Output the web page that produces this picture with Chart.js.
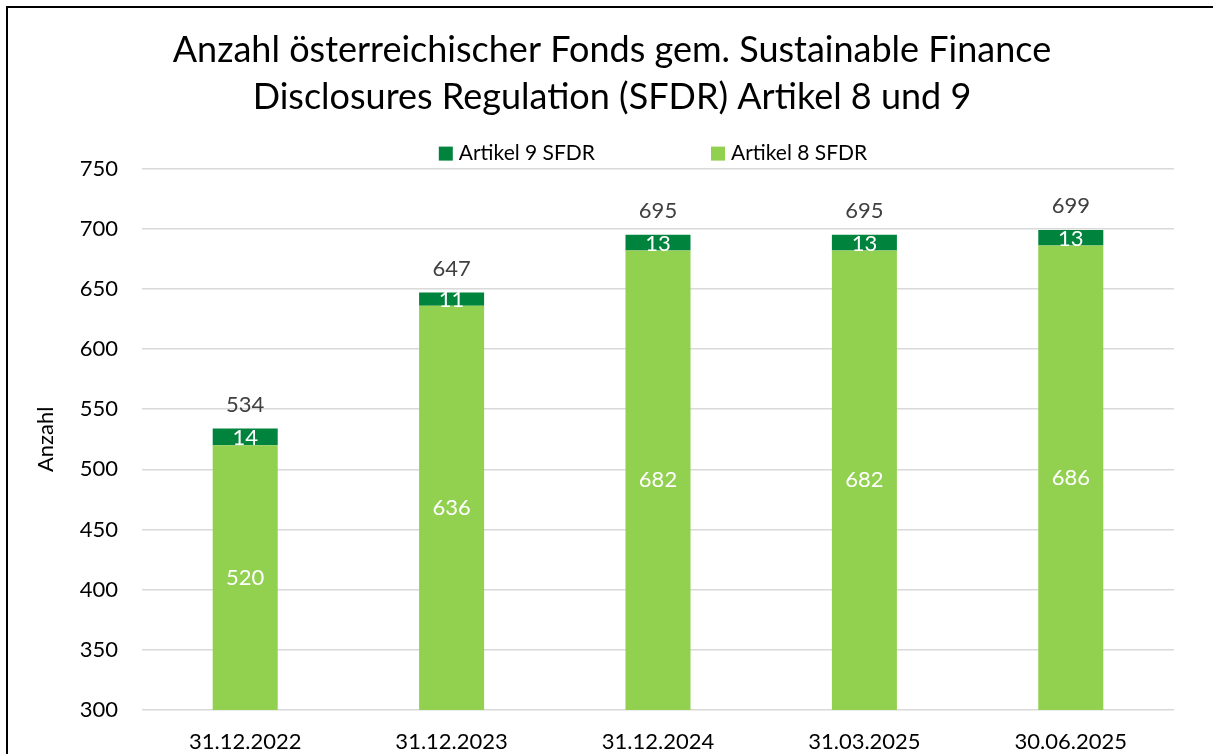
<!DOCTYPE html>
<html>
<head>
<meta charset="utf-8">
<title>SFDR Fonds</title>
<script src="https://cdn.jsdelivr.net/npm/chart.js"></script>
<style>
html, body { margin: 0; padding: 0; background: #fff; overflow: hidden; }
#wrap { position: absolute; left: 0; top: 0; width: 1213px; height: 754px; }
#frame { position: absolute; left: 6px; top: 6px; width: 1400px; height: 1000px; border: 2px solid #000; pointer-events: none; }
</style>
</head>
<body>
<div id="wrap"><canvas id="chart"></canvas></div>
<div id="frame"></div>
<script>
// Daten
var kategorien = ["31.12.2022", "31.12.2023", "31.12.2024", "31.03.2025", "30.06.2025"];
var artikel8 = [520, 636, 682, 682, 686];
var artikel9 = [14, 11, 13, 13, 13];
var yWerte = [300, 350, 400, 450, 500, 550, 600, 650, 700, 750];

var schrift = "Lato, 'Noto Sans', sans-serif";
var farbe8 = "#92D050";
var farbe9 = "#00843D";

// Beschriftungen + Legende
var beschriftung = {
  id: 'beschriftung',
  afterDatasetsDraw: function(chart) {
    var ctx = chart.ctx;
    var area = chart.chartArea;
    var m8 = chart.getDatasetMeta(0), m9 = chart.getDatasetMeta(1);
    ctx.save();
    ctx.font = '22px ' + schrift;
    ctx.textAlign = 'center';
    ctx.textBaseline = 'middle';
    m8.data.forEach(function(bar, i) {
      var b9 = m9.data[i];
      var unten = Math.min(bar.base, area.bottom);
      ctx.fillStyle = '#fff';
      ctx.fillText(artikel8[i], bar.x, (bar.y + unten) / 2);
      ctx.fillText(artikel9[i], b9.x, (b9.y + b9.base) / 2 + 1);
      ctx.fillStyle = '#404040';
      ctx.fillText(artikel8[i] + artikel9[i], b9.x, b9.y - 24);
    });

    // Legende (Artikel 9 zuerst)
    var eintraege = [
      { text: chart.data.datasets[1].label, farbe: farbe9 },
      { text: chart.data.datasets[0].label, farbe: farbe8 }
    ];
    var box = 14, abstand = 6, luecke = 116;
    ctx.font = '21px ' + schrift;
    ctx.textAlign = 'left';
    var gesamt = 0;
    eintraege.forEach(function(e, i) {
      e.w = box + abstand + ctx.measureText(e.text).width;
      gesamt += e.w + (i > 0 ? luecke : 0);
    });
    var x = (area.left + area.right) / 2 - 5 - gesamt / 2;
    var y = area.top - 15;
    eintraege.forEach(function(e) {
      ctx.fillStyle = e.farbe;
      ctx.fillRect(x, y - box / 2, box, box);
      ctx.fillStyle = '#000';
      ctx.fillText(e.text, x + box + abstand, y);
      x += e.w + luecke;
    });
    ctx.restore();
  }
};

new Chart(document.getElementById("chart"), {
  type: 'bar',
  data: {
    labels: kategorien,
    datasets: [
      {
        label: "Artikel 8 SFDR",
        data: artikel8,
        backgroundColor: farbe8,
        barPercentage: 0.315,
        categoryPercentage: 1
      },
      {
        label: "Artikel 9 SFDR",
        data: artikel9,
        backgroundColor: farbe9,
        barPercentage: 0.315,
        categoryPercentage: 1
      }
    ]
  },
  options: {
    responsive: true,
    maintainAspectRatio: false,
    animation: false,
    layout: { padding: { left: 50, right: 39, top: 0, bottom: 0 } },
    plugins: {
      legend: { display: false },
      tooltip: { enabled: false },
      title: {
        display: true,
        text: ["Anzahl österreichischer Fonds gem. Sustainable Finance", "Disclosures Regulation (SFDR) Artikel 8 und 9"],
        color: '#000',
        font: { family: schrift, size: 36, weight: 'normal', lineHeight: 1.3 },
        padding: { top: 27, bottom: 48 }
      }
    },
    scales: {
      x: {
        stacked: true,
        grid: { display: false },
        border: { display: false },
        ticks: { color: '#000', font: { family: schrift, size: 22 }, padding: 11 },
        afterFit: function(s) { s.height = 44; }
      },
      y: {
        stacked: true,
        min: 300,
        max: 750,
        afterBuildTicks: function(s) { s.ticks = yWerte.map(function(v) { return { value: v }; }); },
        grid: { color: '#d9d9d9', lineWidth: 1.5, drawTicks: false },
        border: { display: false },
        ticks: { color: '#000', font: { family: schrift, size: 22 }, padding: 24 },
        title: { display: true, text: 'Anzahl', color: '#000', font: { family: schrift, size: 22 }, padding: { top: -17, bottom: 0 } },
        afterFit: function(s) { s.width = 92; }
      }
    }
  },
  plugins: [beschriftung]
});
</script>
</body>
</html>
